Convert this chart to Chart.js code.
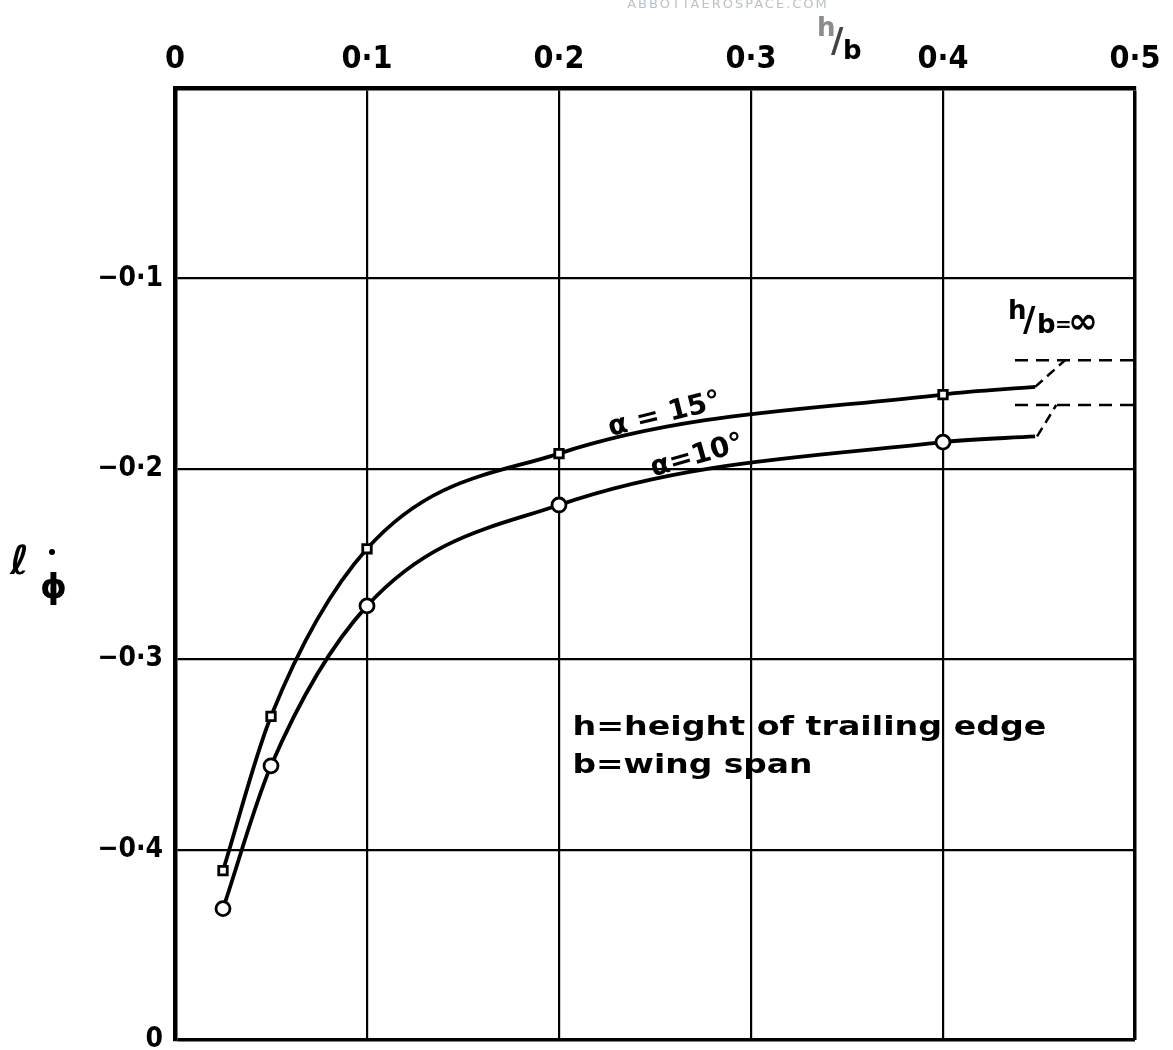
<!DOCTYPE html>
<html>
<head>
<meta charset="utf-8">
<script src="https://cdn.jsdelivr.net/npm/chart.js@4.4.1/dist/chart.umd.min.js"></script>
<style>
  body { margin: 0; background: #fff; }
  #wrap { width: 1173px; height: 1050px; position: relative; }
</style>
</head>
<body>
<div id="wrap"><canvas id="chart"></canvas></div>
<script>
// h/b values where the curves were measured (last one = end of the drawn line)
const hb = [0.025, 0.05, 0.1, 0.2, 0.4, 0.448];
const alpha15 = [-0.411, -0.330, -0.242, -0.192, -0.161, -0.157];
const alpha10 = [-0.431, -0.356, -0.272, -0.219, -0.186, -0.183];
const markerRadius = [6, 6, 6, 6, 6, 0];

// h/b = infinity asymptotes (dashed) and their joining strokes
const infX = [0.4375, 0.5];
const inf15 = -0.143;
const inf10 = -0.1665;
const join15 = [[0.448, -0.157], [0.4635, -0.143]];
const join10 = [[0.449, -0.183], [0.459, -0.1665]];

// axis ticks
const xTickValues = [0, 0.1, 0.2, 0.3, 0.4, 0.5];
const xTickLabels = ['0', '0·1', '0·2', '0·3', '0·4', '0·5'];
const yTickValues = [0, -0.1, -0.2, -0.3, -0.4, -0.5];
const yTickLabels = ['', '−0·1', '−0·2', '−0·3', '−0·4', '0'];

const TICKS = '"DejaVu Sans Condensed", "DejaVu Sans", sans-serif';
const LETTER = '"DejaVu Sans", sans-serif';

function pts(xs, ys) {
  return xs.map((v, i) => ({ x: v, y: ys[i] }));
}

function pickLabel(values, labels, v) {
  for (let i = 0; i < values.length; i++) {
    if (Math.abs(values[i] - v) < 1e-6) return labels[i];
  }
  return '';
}

// draw a string stretched to a given width
function fitText(ctx, text, x, y, width) {
  const w = ctx.measureText(text).width;
  ctx.save();
  ctx.translate(x, y);
  ctx.scale(width / w, 1);
  ctx.fillText(text, 0, 0);
  ctx.restore();
}

const notes = {
  id: 'notes',
  afterDraw(chart) {
    const { ctx } = chart;
    const x = chart.scales.x, y = chart.scales.y;
    ctx.save();
    ctx.fillStyle = '#000';
    ctx.textBaseline = 'alphabetic';

    // curve labels
    [['α = 15°', 0.255, -0.1717, -14], ['α=10°', 0.272, -0.1935, -16]].forEach(([t, vx, vy, ang]) => {
      ctx.save();
      ctx.translate(x.getPixelForValue(vx), y.getPixelForValue(vy));
      ctx.rotate(ang * Math.PI / 180);
      ctx.font = 'bold 28px ' + LETTER;
      ctx.textAlign = 'center';
      ctx.textBaseline = 'middle';
      ctx.fillText(t, 0, 0);
      ctx.restore();
    });

    // h/b = ∞
    const ix = x.getPixelForValue(0.4375), iy = y.getPixelForValue(-0.1255);
    ctx.font = 'bold 26px ' + LETTER;
    ctx.textAlign = 'left';
    ctx.fillText('h', ix - 7, iy - 8);
    ctx.font = 'bold 34px ' + LETTER;
    ctx.fillText('/', ix + 8, iy + 4);
    ctx.font = 'bold 26px ' + LETTER;
    ctx.fillText('b', ix + 22, iy + 6);
    ctx.font = 'bold 20px ' + LETTER;
    ctx.fillText('=', ix + 40, iy + 4);
    ctx.font = 'bold 36px ' + LETTER;
    ctx.fillText('∞', ix + 53, iy + 6);

    // note
    ctx.font = 'bold 27px ' + LETTER;
    const nx = x.getPixelForValue(0.207);
    fitText(ctx, 'h=height of trailing edge', nx, y.getPixelForValue(-0.3398), 474);
    fitText(ctx, 'b=wing span', nx, y.getPixelForValue(-0.3598), 240);

    // axis title h/b on top
    ctx.font = 'bold 26px ' + LETTER;
    ctx.fillStyle = '#8c8c8c';
    ctx.fillText('h', 817, 36);
    ctx.fillStyle = '#444';
    ctx.font = 'bold 34px ' + LETTER;
    ctx.fillText('/', 831, 52);
    ctx.fillStyle = '#000';
    ctx.font = 'bold 26px ' + LETTER;
    ctx.fillText('b', 843, 59);

    // y title
    ctx.font = 'bold 40px ' + LETTER;
    ctx.fillText('ℓ', 10, 574);
    ctx.font = 'bold 34px ' + LETTER;
    ctx.fillText('ϕ', 40, 598);
    ctx.beginPath();
    ctx.arc(52, 552, 3, 0, Math.PI * 2);
    ctx.fill();

    // watermark
    ctx.fillStyle = '#b9c2c9';
    ctx.font = '13px ' + LETTER;
    ctx.letterSpacing = '2px';
    ctx.textAlign = 'center';
    ctx.fillText('ABBOTTAEROSPACE.COM', 728, 8);
    ctx.restore();
  }
};

const lineStyle = {
  borderColor: '#000',
  borderWidth: 3.8,
  backgroundColor: '#fff',
  pointBorderColor: '#000',
  pointBackgroundColor: '#fff',
  pointBorderWidth: 2.8,
  showLine: true,
  cubicInterpolationMode: 'monotone',
  fill: false
};

const dashStyle = {
  borderColor: '#000',
  borderWidth: 2.5,
  borderDash: [13, 8],
  pointRadius: 0,
  showLine: true,
  fill: false
};

new Chart(document.getElementById('chart'), {
  type: 'scatter',
  data: {
    datasets: [
      Object.assign({ label: 'α=15°', data: pts(hb, alpha15), pointStyle: 'rect', pointRadius: markerRadius }, lineStyle),
      Object.assign({ label: 'α=10°', data: pts(hb, alpha10), pointStyle: 'circle', pointRadius: markerRadius.map(r => r ? r + 1 : 0) }, lineStyle),
      Object.assign({ label: 'inf15', data: pts(infX, [inf15, inf15]) }, dashStyle),
      Object.assign({ label: 'inf10', data: pts(infX, [inf10, inf10]) }, dashStyle),
      Object.assign({ label: 'join15', data: join15.map(p => ({ x: p[0], y: p[1] })) }, dashStyle, { borderDash: [10, 6] }),
      Object.assign({ label: 'join10', data: join10.map(p => ({ x: p[0], y: p[1] })) }, dashStyle, { borderDash: [10, 6] })
    ]
  },
  options: {
    responsive: true,
    maintainAspectRatio: false,
    animation: false,
    layout: { padding: { left: 0, top: 0, right: 38, bottom: 10 } },
    plugins: { legend: { display: false }, tooltip: { enabled: false } },
    scales: {
      x: {
        type: 'linear',
        position: 'top',
        min: 0,
        max: 0.5,
        afterBuildTicks: (s) => { s.ticks = xTickValues.map(v => ({ value: v })); },
        afterFit: (s) => { s.height = 88; },
        ticks: {
          color: '#000',
          font: { family: TICKS, size: 32, weight: 'bold' },
          padding: 9,
          maxRotation: 0,
          callback: (v) => pickLabel(xTickValues, xTickLabels, v)
        },
        grid: {
          color: '#000',
          lineWidth: (c) => (c.tick && c.tick.value === 0.5 ? 3.5 : 2.2),
          drawTicks: false
        },
        border: { color: '#000', width: 4.5 }
      },
      y: {
        type: 'linear',
        min: -0.5,
        max: 0,
        afterBuildTicks: (s) => { s.ticks = yTickValues.map(v => ({ value: v })); },
        afterFit: (s) => { s.width = 175; s.paddingTop = 0; s.paddingBottom = 0; },
        ticks: {
          color: '#000',
          font: { family: TICKS, size: 28, weight: 'bold' },
          padding: 12,
          callback: (v) => pickLabel(yTickValues, yTickLabels, v)
        },
        grid: {
          color: '#000',
          lineWidth: (c) => (c.tick && c.tick.value === -0.5 ? 3.5 : 2.2),
          drawTicks: false
        },
        border: { color: '#000', width: 4.5 }
      }
    }
  },
  plugins: [notes]
});
</script>
</body>
</html>
